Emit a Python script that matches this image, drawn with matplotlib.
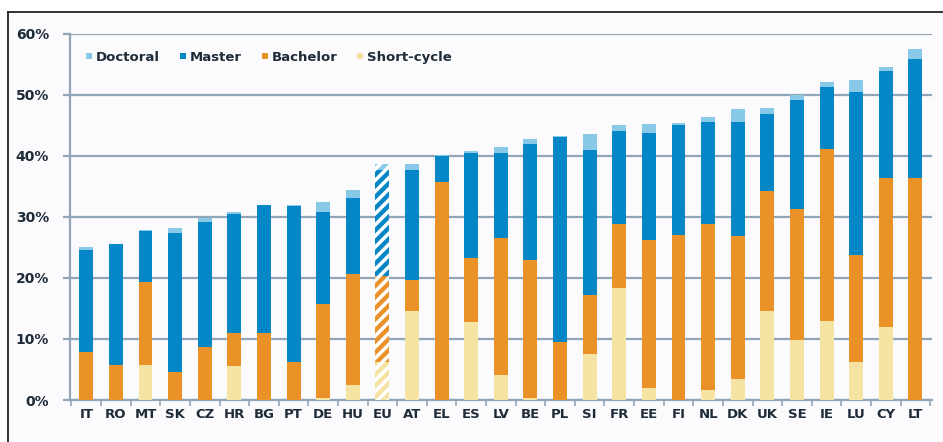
import matplotlib
matplotlib.use("Agg")
import matplotlib.pyplot as plt
import numpy as np
from matplotlib.lines import Line2D

countries = ["IT", "RO", "MT", "SK", "CZ", "HR", "BG", "PT", "DE", "HU", "EU", "AT", "EL", "ES",
             "LV", "BE", "PL", "SI", "FR", "EE", "FI", "NL", "DK", "UK", "SE", "IE", "LU", "CY", "LT"]
short_cycle = [0, 0, 5.7, 0, 0, 5.5, 0, 0, 0.3, 2.5, 6.3, 14.5, 0, 12.8,
               4.1, 0.3, 0, 7.6, 18.3, 1.9, 0, 1.7, 3.5, 14.5, 9.8, 13.0, 6.3, 11.9, 0]
bachelor = [7.9, 5.7, 13.7, 4.6, 8.7, 5.4, 11.0, 6.2, 15.4, 18.1, 14.0, 5.2, 35.7, 10.5,
            22.4, 22.6, 9.5, 9.6, 10.6, 24.3, 27.1, 27.1, 23.3, 19.8, 21.5, 28.1, 17.4, 24.5, 36.3]
master = [16.6, 19.8, 8.3, 22.8, 20.5, 19.6, 20.9, 25.6, 15.1, 12.4, 17.3, 18.0, 4.3, 17.2,
          13.9, 19.0, 33.6, 23.7, 15.1, 17.5, 17.9, 16.8, 18.8, 12.5, 17.8, 10.2, 26.8, 17.5, 19.6]
doctoral = [0.6, 0.1, 0.1, 0.8, 0.6, 0.3, 0.1, 0.1, 1.6, 1.4, 1.0, 1.0, 0.1, 0.3,
            1.1, 0.8, 0.1, 2.6, 1.0, 1.5, 0.4, 0.7, 2.0, 1.0, 0.8, 0.8, 1.9, 0.6, 1.6]
yticks = [0, 10, 20, 30, 40, 50, 60]
hatched_country = "EU"

series = [("Short-cycle", short_cycle, "#f4e3a3"),
          ("Bachelor", bachelor, "#ea9228"),
          ("Master", master, "#0587c7"),
          ("Doctoral", doctoral, "#88c9e7")]

txt = "#1e2b38"
bg = "#fbfbfd"
grid_c = "#90a6b6"

plt.rcParams['hatch.linewidth'] = 2.5

fig = plt.figure(figsize=(9.43, 4.42), dpi=100)
fig.patch.set_facecolor(bg)
ax = fig.add_axes([0.0742, 0.095, 0.9138, 0.829])
ax.set_facecolor(bg)

x = np.arange(len(countries))
bottom = np.zeros(len(countries))
handles = {}
hatch_idx = countries.index(hatched_country)
for name, vals, col in series:
    vals = np.array(vals)
    bars = ax.bar(x, vals, width=0.47, bottom=bottom, color=col, linewidth=0, zorder=3)
    b = bars[hatch_idx]
    b.set_hatch("///")
    b.set_edgecolor("white")
    b.set_linewidth(0)
    handles[name] = col
    bottom += vals

ax.set_xlim(-0.55, len(countries) - 0.45)
ax.set_ylim(0, 60)
ax.set_yticks(yticks)
ax.set_yticklabels([f"{v}%" for v in yticks])
ax.yaxis.grid(True, color=grid_c, linewidth=1.6, zorder=1)
ax.set_axisbelow(True)

ax.set_xticks(x)
ax.set_xticklabels(countries)
ax.set_xticks(np.arange(len(countries) + 1) - 0.5, minor=True)
ax.tick_params(axis="x", which="major", length=0, pad=6, labelsize=9.5, labelcolor=txt)
ax.tick_params(axis="x", which="minor", length=4, width=1.2, color=grid_c, direction="out")
ax.tick_params(axis="y", length=5, width=1.6, color=grid_c, pad=10, labelsize=10, labelcolor=txt)
for lab in ax.get_xticklabels() + ax.get_yticklabels():
    lab.set_fontweight("bold")

for s in ["top", "right"]:
    ax.spines[s].set_visible(False)
for s in ["left", "bottom"]:
    ax.spines[s].set_color(grid_c)
    ax.spines[s].set_linewidth(1.6)

order = ["Doctoral", "Master", "Bachelor", "Short-cycle"]
leg_handles = [Line2D([], [], marker="s", linestyle="", markersize=5,
                      markerfacecolor=handles[n], markeredgewidth=0) for n in order]
leg = ax.legend(leg_handles, order, loc="upper left", bbox_to_anchor=(0.005, 0.985), ncol=4,
                frameon=False, handlelength=0.5, handletextpad=0.25, columnspacing=1.5,
                prop={"weight": "bold", "size": 9.5})
for t in leg.get_texts():
    t.set_color(txt)

# outer frame (top and left edges)
fig.add_artist(Line2D([8 / 943, 1.0], [1 - 12 / 442, 1 - 12 / 442], transform=fig.transFigure,
                      color="#222222", linewidth=1.3))
fig.add_artist(Line2D([8 / 943, 8 / 943], [0, 1 - 12 / 442], transform=fig.transFigure,
                      color="#222222", linewidth=1.3))
fig.patches.append(plt.Rectangle((0, 1 - 12 / 442), 1, 12 / 442, transform=fig.transFigure,
                                 facecolor="white", edgecolor="none", zorder=-1))
fig.patches.append(plt.Rectangle((0, 0), 8 / 943, 1, transform=fig.transFigure,
                                 facecolor="white", edgecolor="none", zorder=-1))

fig.savefig("out.png", dpi=100, facecolor=bg)
